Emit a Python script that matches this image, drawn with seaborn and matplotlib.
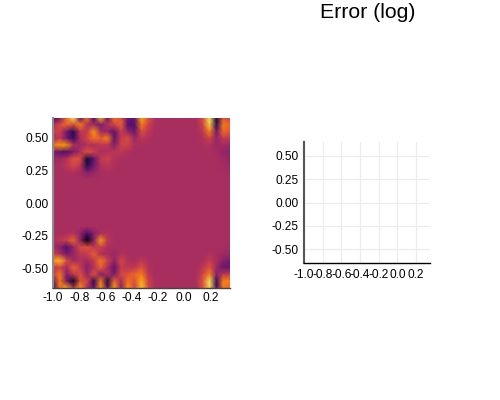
import numpy as np
import matplotlib
matplotlib.use('Agg')
import matplotlib.pyplot as plt
import seaborn as sns

sns.set_theme(style='whitegrid')
plt.rcParams['font.family'] = ['Liberation Sans', 'DejaVu Sans']

# tick values
x_ticks = [-1.0, -0.8, -0.6, -0.4, -0.2, 0.0, 0.2]
y_ticks = [0.50, 0.25, 0.00, -0.25, -0.50]
x_range = (-1.0, 0.35)
y_range = (-0.65, 0.65)

# field, in percent of the colour scale
top_rows = [
    [22, 32, 68, 92, 25, 70, 22, 82, 28, 68, 60, 30, 30, 80, 60, 47, 45, 45, 45, 45, 45, 45, 58, 92, 12, 60, 55],
    [45, 58, 66, 58, 72, 48, 42, 34, 48, 55, 64, 26, 24, 70, 55, 46, 45, 45, 45, 45, 45, 45, 55, 88, 15, 70, 66],
    [54, 54, 32, 14, 50, 52, 76, 44, 40, 28, 52, 40, 30, 58, 50, 45, 45, 45, 45, 45, 45, 45, 50, 72, 32, 66, 62],
    [46, 50, 32, 18, 45, 56, 68, 64, 72, 28, 52, 58, 42, 50, 47, 45, 45, 45, 45, 45, 45, 45, 47, 55, 40, 52, 50],
    [68, 78, 75, 46, 43, 48, 46, 50, 50, 36, 55, 55, 46, 46, 45, 45, 45, 45, 45, 45, 45, 45, 46, 48, 42, 44, 42],
    [35, 27, 24, 33, 46, 60, 55, 46, 47, 50, 50, 47, 45, 45, 45, 45, 45, 45, 45, 45, 45, 45, 45, 46, 44, 40, 38],
    [42, 42, 48, 60, 58, 10, 28, 50, 55, 48, 46, 45, 45, 45, 45, 45, 45, 45, 45, 45, 45, 45, 45, 45, 45, 43, 40],
    [45, 45, 50, 57, 50, 14, 32, 47, 50, 47, 45, 45, 45, 45, 45, 45, 45, 45, 45, 45, 45, 45, 45, 45, 45, 44, 43],
    [45, 45, 46, 47, 44, 36, 41, 45, 46, 45, 45, 45, 45, 45, 45, 45, 45, 45, 45, 45, 45, 45, 45, 45, 45, 45, 44],
    [45, 45, 45, 45, 45, 45, 45, 45, 45, 45, 45, 45, 45, 45, 45, 45, 45, 45, 45, 45, 45, 45, 45, 45, 45, 45, 45],
]
quiet_row = [45, 45, 45, 45, 45, 45, 45, 45, 45, 45, 45, 45, 45, 45, 45, 45, 45, 45, 45, 45, 45, 45, 45, 45, 45, 45, 45]
bottom_rows = [
    [45, 45, 46, 48, 40, 22, 36, 46, 47, 45, 45, 45, 45, 45, 45, 45, 45, 45, 45, 45, 45, 45, 45, 45, 45, 45, 45],
    [47, 50, 55, 66, 38, 2, 36, 78, 50, 46, 45, 45, 45, 45, 45, 45, 45, 45, 45, 45, 45, 45, 45, 45, 45, 45, 45],
    [45, 38, 24, 40, 58, 60, 50, 55, 46, 45, 45, 45, 45, 45, 45, 45, 45, 45, 45, 45, 45, 45, 45, 45, 45, 45, 44],
    [55, 46, 32, 41, 50, 52, 64, 46, 45, 42, 47, 46, 45, 45, 45, 45, 45, 45, 45, 45, 45, 45, 45, 47, 45, 43, 42],
    [76, 84, 58, 43, 48, 43, 52, 70, 55, 38, 57, 47, 46, 50, 46, 45, 45, 45, 45, 45, 45, 45, 46, 52, 45, 36, 33],
    [50, 55, 43, 66, 52, 37, 48, 64, 46, 28, 52, 50, 50, 60, 48, 45, 45, 45, 45, 45, 45, 45, 50, 60, 42, 30, 30],
    [52, 70, 36, 50, 59, 40, 60, 35, 47, 33, 57, 60, 66, 70, 50, 45, 45, 45, 45, 45, 45, 45, 55, 72, 36, 50, 52],
    [28, 70, 32, 6, 60, 56, 16, 70, 12, 66, 44, 68, 60, 82, 55, 46, 45, 45, 45, 45, 45, 45, 60, 92, 18, 72, 72],
    [18, 68, 80, 48, 76, 46, 28, 76, 24, 78, 37, 76, 55, 85, 57, 46, 45, 45, 45, 45, 45, 45, 60, 90, 22, 70, 64],
]
field_rows = top_rows + [quiet_row] * 7 + bottom_rows

fig = plt.figure(figsize=(5, 4), dpi=100)
W, H = 500.0, 400.0


def axes_at(left, top, right, bottom):
    # axes position from pixel box
    return fig.add_axes([left / W, 1 - bottom / H, (right - left) / W, (bottom - top) / H])


# left panel: heatmap with smooth shading
ax1 = axes_at(53, 118, 230, 288)
field = np.array(field_rows)
n_rows, n_cols = field.shape
sns.heatmap(field, ax=ax1, cmap='inferno', vmin=0, vmax=100, cbar=False,
            xticklabels=False, yticklabels=False, shading='gouraud')
ax1.set_xlim(0, n_cols - 1)
ax1.set_ylim(n_rows - 1, 0)
ax1.set_xticks([(v - x_range[0]) / (x_range[1] - x_range[0]) * (n_cols - 1) for v in x_ticks])
ax1.set_yticks([(y_range[1] - v) / (y_range[1] - y_range[0]) * (n_rows - 1) for v in y_ticks])
ax1.set_xticklabels([f'{v:.1f}' for v in x_ticks])
ax1.set_yticklabels([f'{v:.2f}' for v in y_ticks], rotation=0)
ax1.tick_params(axis='both', length=0, pad=3, labelsize=8.6, colors='black')
ax1.grid(False)
for name, spine in ax1.spines.items():
    spine.set_visible(name in ('left', 'bottom'))
ax1.spines['left'].set_color('#8c8c8c')
ax1.spines['left'].set_linewidth(1.5)
ax1.spines['bottom'].set_color('#444444')
ax1.spines['bottom'].set_linewidth(1.0)

# right panel: empty error plot
ax2 = axes_at(304, 142, 430, 263)
ax2.set_xlim(*x_range)
ax2.set_ylim(*y_range)
ax2.set_xticks(x_ticks)
ax2.set_yticks(y_ticks)
ax2.set_xticklabels([f'{v:.1f}' for v in x_ticks])
ax2.set_yticklabels([f'{v:.2f}' for v in y_ticks])
ax2.tick_params(axis='both', direction='in', length=1.5, width=0.6, pad=4, labelsize=8.6, colors='black')
ax2.grid(True, color='#ebebeb', linewidth=0.8)
sns.despine(ax=ax2)
ax2.spines['left'].set_color('#555555')
ax2.spines['left'].set_linewidth(1.5)
ax2.spines['bottom'].set_color('black')
ax2.spines['bottom'].set_linewidth(1.0)

fig.text(368 / W, 1 - 12 / H, 'Error (log)', ha='center', va='center', fontsize=15.3, color='black')

fig.savefig('out.png', dpi=100)
